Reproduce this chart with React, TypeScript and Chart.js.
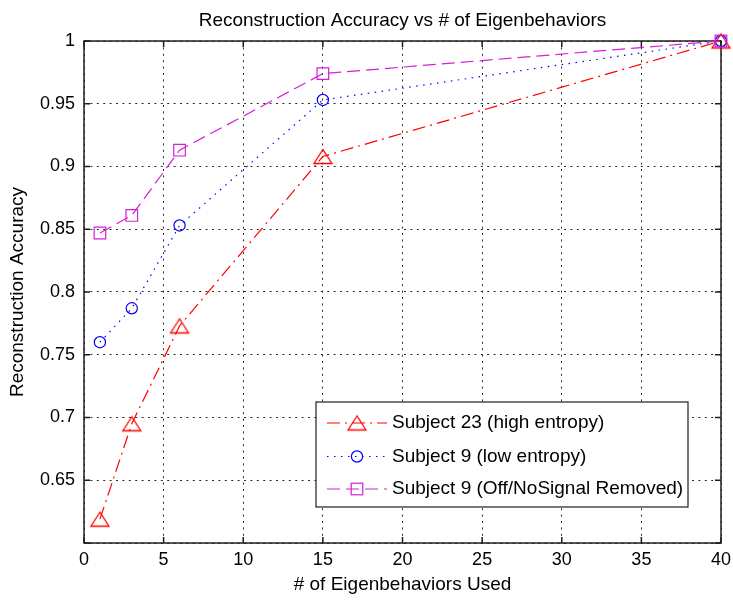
import React, { useEffect, useRef } from "react";
import { Chart, registerables } from "chart.js";

Chart.register(...registerables);

// Number of eigenbehaviors used for the reconstruction
const EIGEN_COUNTS = [1, 3, 6, 15, 40];

// Reconstruction accuracy per subject
const SUBJECT23_HIGH = [0.619, 0.695, 0.773, 0.908, 1.0];
const SUBJECT9_LOW = [0.76, 0.787, 0.853, 0.953, 1.0];
const SUBJECT9_REMOVED = [0.847, 0.861, 0.913, 0.974, 1.0];

const SERIES_LABELS = [
  "Subject 23 (high entropy)",
  "Subject 9 (low entropy)",
  "Subject 9 (Off/NoSignal Removed)",
];

const X_TICKS = [0, 5, 10, 15, 20, 25, 30, 35, 40];
const Y_TICKS = [0.6, 0.65, 0.7, 0.75, 0.8, 0.85, 0.9, 0.95, 1];

const TITLE = "Reconstruction Accuracy vs # of Eigenbehaviors";
const X_TITLE = "# of Eigenbehaviors Used";
const Y_TITLE = "Reconstruction Accuracy";

const FONT = '"Liberation Sans", Arial, Helvetica, sans-serif';
const TEXT_SIZE = 19;
const TICK_SIZE = 18;
const TICK_LEN = 6;

type Marker = "triangle" | "circle" | "rect";

const STYLES: { color: string; dash: number[]; marker: Marker; radius: number }[] = [
  { color: "#ff0000", dash: [13, 5, 2, 5], marker: "triangle", radius: 9 },
  { color: "#0000ff", dash: [1.5, 5.5], marker: "circle", radius: 5.6 },
  { color: "#d41fd4", dash: [13, 6], marker: "rect", radius: 8.2 },
];

// Open triangle marker, centred on its bounding box
function makeTriangle(color: string): HTMLCanvasElement {
  const c = document.createElement("canvas");
  c.width = 22;
  c.height = 19;
  const g = c.getContext("2d")!;
  g.strokeStyle = color;
  g.lineWidth = 1.3;
  g.beginPath();
  g.moveTo(11, 2.5);
  g.lineTo(2, 16.5);
  g.lineTo(20, 16.5);
  g.closePath();
  g.stroke();
  return c;
}

function drawMarker(ctx: CanvasRenderingContext2D, marker: Marker, x: number, y: number, color: string, radius: number, tri: HTMLCanvasElement) {
  ctx.save();
  ctx.setLineDash([]);
  ctx.strokeStyle = color;
  ctx.lineWidth = 1.2;
  if (marker === "triangle") {
    ctx.drawImage(tri, x - tri.width / 2, y - tri.height / 2);
  } else if (marker === "circle") {
    ctx.beginPath();
    ctx.arc(x, y, radius, 0, Math.PI * 2);
    ctx.stroke();
  } else {
    const h = radius * Math.SQRT1_2;
    ctx.strokeRect(x - h, y - h, 2 * h, 2 * h);
  }
  ctx.restore();
}

export default function App() {
  const ref = useRef<HTMLCanvasElement>(null);

  useEffect(() => {
    const triangle = makeTriangle(STYLES[0].color);
    const seriesValues = [SUBJECT23_HIGH, SUBJECT9_LOW, SUBJECT9_REMOVED];

    const datasets = seriesValues.map((values, i) => {
      const s = STYLES[i];
      return {
        label: SERIES_LABELS[i],
        data: EIGEN_COUNTS.map((x, j) => ({ x, y: values[j] })),
        borderColor: s.color,
        borderWidth: 1.2,
        borderDash: s.dash,
        pointStyle: s.marker === "triangle" ? triangle : s.marker,
        pointRadius: s.radius,
        pointBorderColor: s.color,
        pointBackgroundColor: "rgba(0,0,0,0)",
        pointBorderWidth: 1.2,
        fill: false,
        tension: 0,
        clip: false as const,
        order: 3 - i,
      };
    });

    const matlabFrame = {
      id: "matlabFrame",
      beforeDatasetsDraw(chart: any) {
        const { ctx, chartArea: a, scales } = chart;
        ctx.save();
        ctx.strokeStyle = "#1e1e1e";
        ctx.lineWidth = 1.5;
        ctx.setLineDash([]);
        ctx.strokeRect(a.left, a.top, a.right - a.left, a.bottom - a.top);
        ctx.beginPath();
        for (const v of X_TICKS) {
          const x = scales.x.getPixelForValue(v);
          ctx.moveTo(x, a.bottom);
          ctx.lineTo(x, a.bottom - TICK_LEN);
          ctx.moveTo(x, a.top);
          ctx.lineTo(x, a.top + TICK_LEN);
        }
        for (const v of Y_TICKS) {
          const y = scales.y.getPixelForValue(v);
          ctx.moveTo(a.left, y);
          ctx.lineTo(a.left + TICK_LEN, y);
          ctx.moveTo(a.right, y);
          ctx.lineTo(a.right - TICK_LEN, y);
        }
        ctx.stroke();
        ctx.restore();
      },
      afterDatasetsDraw(chart: any) {
        const { ctx, chartArea: a } = chart;
        // Legend box in the lower right of the axes
        const w = 372;
        const h = 105;
        const left = a.right - 33 - w;
        const top = a.bottom - 36 - h;
        ctx.save();
        ctx.fillStyle = "#ffffff";
        ctx.fillRect(left, top, w, h);
        ctx.strokeStyle = "#1e1e1e";
        ctx.lineWidth = 1.2;
        ctx.setLineDash([]);
        ctx.strokeRect(left, top, w, h);
        const rows = [top + 21, top + 54.5, top + 87];
        ctx.font = `${TEXT_SIZE}px ${FONT}`;
        ctx.textBaseline = "middle";
        ctx.textAlign = "left";
        SERIES_LABELS.forEach((label, i) => {
          const s = STYLES[i];
          const y = rows[i];
          ctx.save();
          ctx.strokeStyle = s.color;
          ctx.lineWidth = 1.2;
          ctx.setLineDash(s.dash);
          ctx.beginPath();
          ctx.moveTo(left + 11, y);
          ctx.lineTo(left + 71, y);
          ctx.stroke();
          ctx.restore();
          drawMarker(ctx, s.marker, left + 41, y, s.color, s.radius, triangle);
          ctx.fillStyle = "#000";
          ctx.fillText(label, left + 76, y);
        });
        ctx.restore();
      },
      afterDraw(chart: any) {
        const { ctx, chartArea: a } = chart;
        const cx = (a.left + a.right) / 2;
        const cy = (a.top + a.bottom) / 2;
        ctx.save();
        ctx.fillStyle = "#000";
        ctx.font = `${TEXT_SIZE}px ${FONT}`;
        ctx.textAlign = "center";
        ctx.textBaseline = "alphabetic";
        ctx.fillText(TITLE, cx, 26);
        ctx.fillText(X_TITLE, cx, 590);
        ctx.translate(23, cy);
        ctx.rotate(-Math.PI / 2);
        ctx.fillText(Y_TITLE, 0, 0);
        ctx.restore();
      },
    };

    const chart = new Chart(ref.current!, {
      type: "line",
      data: { datasets: datasets as any },
      options: {
        animation: false,
        responsive: true,
        maintainAspectRatio: false,
        layout: { padding: { top: 41, right: 0, left: 0, bottom: 0 } },
        plugins: {
          legend: { display: false },
          tooltip: { enabled: false },
          title: { display: false },
        },
        scales: {
          x: {
            type: "linear",
            min: 0,
            max: 40,
            afterFit: (s: any) => {
              s.height = 57;
              s.paddingLeft = 0;
              s.paddingRight = 12;
            },
            afterBuildTicks: (s: any) => {
              s.ticks = X_TICKS.map((v) => ({ value: v }));
            },
            ticks: {
              padding: 6,
              color: "#000",
              autoSkip: false,
              maxRotation: 0,
              font: { family: FONT, size: TICK_SIZE },
              callback: (v: any) => String(v),
            },
            grid: { color: "#2a2a2a", lineWidth: 1, drawTicks: false },
            border: { display: false, dash: [2, 4.4] },
          },
          y: {
            type: "linear",
            min: 0.6,
            max: 1,
            afterFit: (s: any) => {
              s.width = 84;
              s.paddingTop = 0;
              s.paddingBottom = 0;
            },
            afterBuildTicks: (s: any) => {
              s.ticks = Y_TICKS.map((v) => ({ value: v }));
            },
            ticks: {
              padding: 9,
              color: "#000",
              autoSkip: false,
              font: { family: FONT, size: TICK_SIZE },
              callback: (v: any) => (Number(v) <= 0.6 + 1e-9 ? "" : String(Number(Number(v).toFixed(2)))),
            },
            grid: { color: "#2a2a2a", lineWidth: 1, drawTicks: false },
            border: { display: false, dash: [2, 4.4] },
          },
        },
      },
      plugins: [matlabFrame],
    });

    return () => chart.destroy();
  }, []);

  return (
    <div style={{ position: "fixed", left: 0, top: 0, width: 733, height: 600, background: "#ffffff" }}>
      <canvas ref={ref} />
    </div>
  );
}
